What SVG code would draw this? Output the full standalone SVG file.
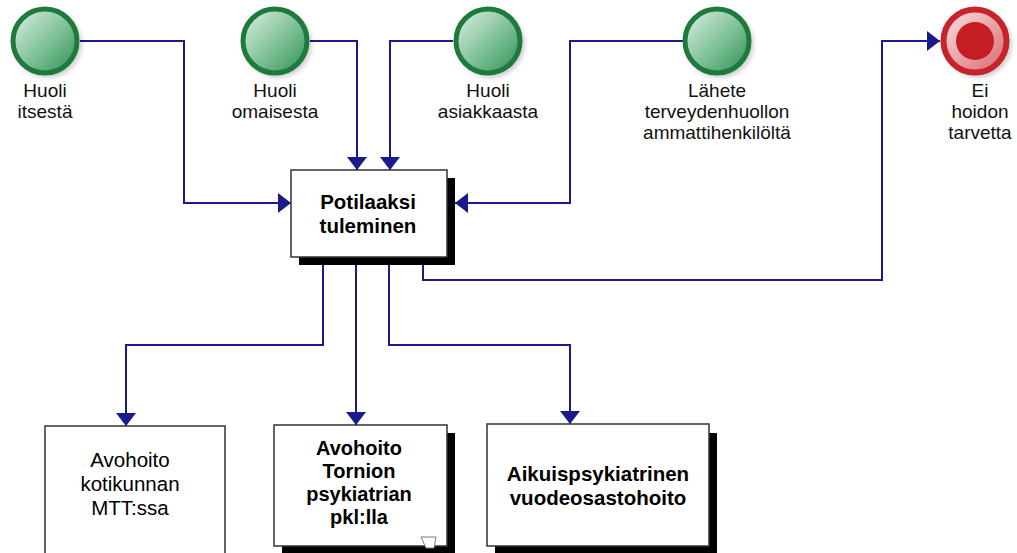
<svg xmlns="http://www.w3.org/2000/svg" width="1017" height="553" viewBox="0 0 1017 553">
  <style>
    .lbl { font-family: "Liberation Sans", Arial, sans-serif; font-size: 19px; fill: #111; text-anchor: middle; }
    .box { fill: #fff; stroke: #333; stroke-width: 1.5; }
    .shadow { fill: #000; }
    .btxt { font-family: "Liberation Sans", Arial, sans-serif; font-size: 20.5px; font-weight: bold; fill: #000; text-anchor: middle; }
    .btxt.sm { font-size: 20px; }
    .ntxt { font-family: "Liberation Sans", Arial, sans-serif; font-size: 20.5px; fill: #000; text-anchor: middle; }
    .conn { fill: none; stroke: #1a1a8a; stroke-width: 2; }
    .start { fill: url(#gGreen); stroke: #1d7a3c; stroke-width: 5; }
    .end { fill: url(#gRed); stroke: #c8232b; stroke-width: 6; }
    .cshadow { fill: #000; opacity: 0.18; }
  </style>
  <defs>
    <linearGradient id="gGreen" x1="0" y1="0" x2="1" y2="1">
      <stop offset="0" stop-color="#e2f1e7"/>
      <stop offset="0.55" stop-color="#7cc095"/>
      <stop offset="1" stop-color="#2f8f54"/>
    </linearGradient>
    <linearGradient id="gRed" x1="0" y1="0" x2="1" y2="1">
      <stop offset="0" stop-color="#fbe3e3"/>
      <stop offset="1" stop-color="#d9666b"/>
    </linearGradient>
    <filter id="blur" x="-20%" y="-20%" width="140%" height="140%">
      <feGaussianBlur stdDeviation="2"/>
    </filter>
    <marker id="arr" viewBox="0 0 13 20" refX="13" refY="10" markerWidth="13" markerHeight="20" markerUnits="userSpaceOnUse" orient="auto">
      <path d="M0,0 L13,10 L0,20 Z" fill="#1a1a8a"/>
    </marker>
  </defs>

  <!-- connectors -->
  <g id="connectors">
    <path class="conn" d="M80,41 H184 V203 H291" marker-end="url(#arr)"/>
    <path class="conn" d="M310,41 H357 V170" marker-end="url(#arr)"/>
    <path class="conn" d="M453,41 H390 V170" marker-end="url(#arr)"/>
    <path class="conn" d="M683,41 H570 V203 H455" marker-end="url(#arr)"/>
    <path class="conn" d="M423,257 V280 H882 V41 H940" marker-end="url(#arr)"/>
    <path class="conn" d="M323,257 V345 H126 V426" marker-end="url(#arr)"/>
    <path class="conn" d="M356,257 V425" marker-end="url(#arr)"/>
    <path class="conn" d="M389,257 V345 H570 V424" marker-end="url(#arr)"/>
  </g>

  <!-- start events -->
  <g id="huoli-itsesta">
    <circle class="cshadow" cx="48" cy="44" r="34" filter="url(#blur)"/>
    <circle class="start" cx="45" cy="41" r="32"/>
    <text class="lbl" x="45" y="97">Huoli</text>
    <text class="lbl" x="45" y="118">itsestä</text>
  </g>
  <g id="huoli-omaisesta">
    <circle class="cshadow" cx="278" cy="44" r="34" filter="url(#blur)"/>
    <circle class="start" cx="275" cy="41" r="32"/>
    <text class="lbl" x="275" y="97">Huoli</text>
    <text class="lbl" x="275" y="118">omaisesta</text>
  </g>
  <g id="huoli-asiakkaasta">
    <circle class="cshadow" cx="491" cy="44" r="34" filter="url(#blur)"/>
    <circle class="start" cx="488" cy="41" r="32"/>
    <text class="lbl" x="488" y="97">Huoli</text>
    <text class="lbl" x="488" y="118">asiakkaasta</text>
  </g>
  <g id="lahete">
    <circle class="cshadow" cx="720" cy="44" r="34" filter="url(#blur)"/>
    <circle class="start" cx="717" cy="41" r="32"/>
    <text class="lbl" x="717" y="97">Lähete</text>
    <text class="lbl" x="717" y="118">terveydenhuollon</text>
    <text class="lbl" x="717" y="139">ammattihenkilöltä</text>
  </g>

  <!-- end event -->
  <g id="ei-hoidon-tarvetta">
    <circle class="cshadow" cx="978" cy="44" r="34" filter="url(#blur)"/>
    <circle class="end" cx="975" cy="41" r="31.5"/>
    <circle cx="975" cy="41" r="19" fill="#c41e24"/>
    <text class="lbl" x="980" y="97">Ei</text>
    <text class="lbl" x="980" y="118">hoidon</text>
    <text class="lbl" x="980" y="139">tarvetta</text>
  </g>

  <!-- central task -->
  <g id="potilaaksi-tuleminen">
    <rect class="shadow" x="299" y="178" width="156" height="87"/>
    <rect class="box" x="291" y="170" width="156" height="87"/>
    <text class="btxt" x="368" y="209">Potilaaksi</text>
    <text class="btxt" x="368" y="233">tuleminen</text>
  </g>

  <!-- outcome tasks -->
  <g id="avohoito-kotikunnan">
    <rect class="box" x="45" y="426" width="180" height="140"/>
    <text class="ntxt" x="130" y="467">Avohoito</text>
    <text class="ntxt" x="130" y="491">kotikunnan</text>
    <text class="ntxt" x="130" y="515">MTT:ssa</text>
  </g>
  <g id="avohoito-tornion">
    <rect class="shadow" x="282" y="433" width="173" height="130"/>
    <rect class="box" x="274" y="425" width="173" height="121"/>
    <text class="btxt sm" x="359" y="455">Avohoito</text>
    <text class="btxt sm" x="359" y="478">Tornion</text>
    <text class="btxt sm" x="359" y="501">psykiatrian</text>
    <text class="btxt sm" x="359" y="524">pkl:lla</text>
    <path d="M421,537 H436 L434,548 H426 Z" fill="#fff" stroke="#777" stroke-width="1"/>
  </g>
  <g id="aikuispsykiatrinen">
    <rect class="shadow" x="495" y="433" width="222" height="130"/>
    <rect class="box" x="487" y="424" width="222" height="122"/>
    <text class="btxt" x="598" y="481">Aikuispsykiatrinen</text>
    <text class="btxt" x="598" y="505">vuodeosastohoito</text>
  </g>
</svg>
